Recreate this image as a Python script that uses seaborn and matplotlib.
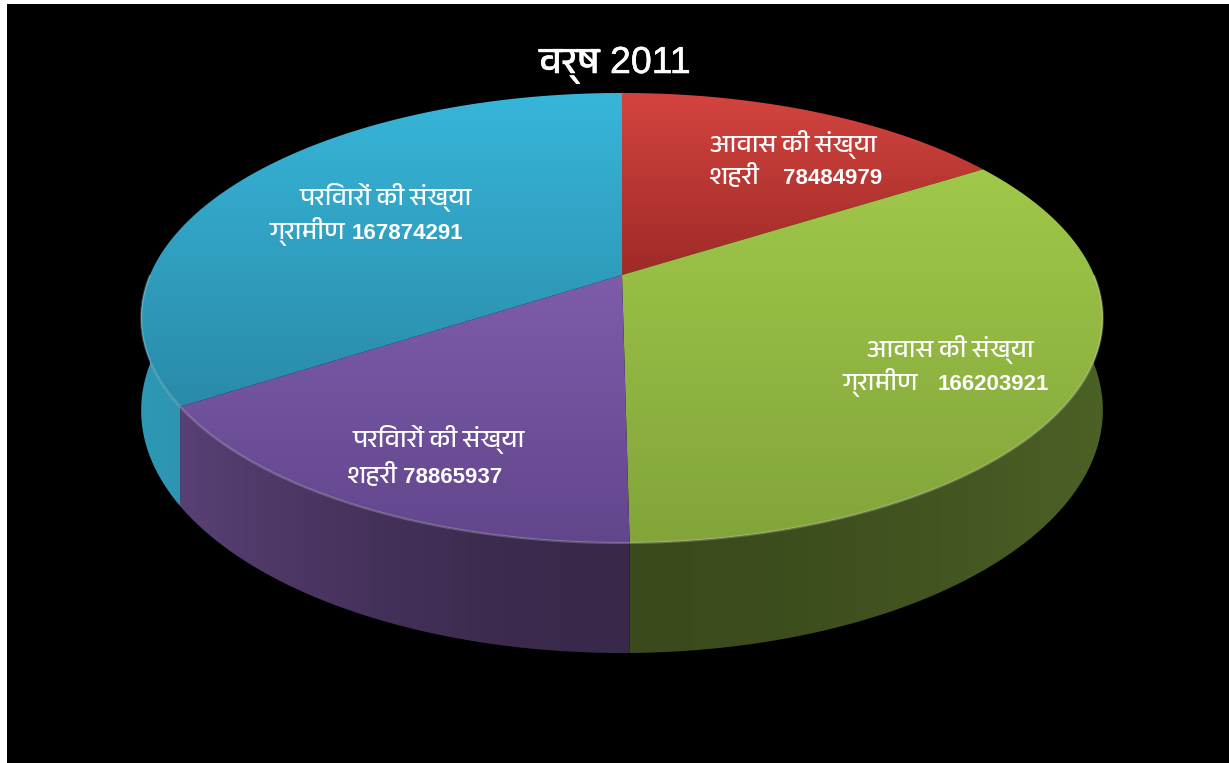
import numpy as np
import matplotlib
matplotlib.use("Agg")
import matplotlib.pyplot as plt
import matplotlib.patheffects as pe
import seaborn as sns
from matplotlib.patches import Polygon
from matplotlib import font_manager as fm
from matplotlib.ft2font import FT2Font
from matplotlib.colors import to_rgb

# ---------------- data ----------------
title = "वर्ष 2011"
metrics = ["आवास की संख्या", "आवास की संख्या", "परिवारों की संख्या", "परिवारों की संख्या"]
areas = ["शहरी", "ग्रामीण", "शहरी", "ग्रामीण"]
values = [78484979, 166203921, 78865937, 167874291]

# ---------------- style / layout ----------------
top_light = ["#D4443F", "#A0C84A", "#7E5CAB", "#37B6D9"]
top_dark = ["#9E2A27", "#82A43A", "#62468C", "#2A8AA9"]
side_front = ["#6E1E1C", "#3A4A1C", "#382849", "#2A86A2"]
side_edge = ["#8E2825", "#4B6025", "#5C437A", "#2E97B4"]
line1_pos = [(793, 152), (950, 357), (439, 447), (386, 205)]
line2_area_end = [760, 918, 398, 345]
line2_val_x = [783, 938, 403, 352]
line2_y = [184, 390, 483, 239]

sns.set_theme(style="dark")


def find_deva():
    best, any_ = None, None
    for f in fm.fontManager.ttflist:
        try:
            cm = FT2Font(f.fname).get_charmap()
        except Exception:
            continue
        if 0x0935 in cm and 0x094D in cm:
            any_ = any_ or f.name
            if any(s in f.name for s in ("Devanagari", "Hind", "Lohit", "Mukta", "Mangal")):
                best = best or f.name
    return best or any_


deva = find_deva()
fams = ["Liberation Sans"] + ([deva] if deva else []) + ["DejaVu Sans"]
deva_fams = ([deva] if deva else []) + ["DejaVu Sans"]
plt.rcParams["font.family"] = fams

W, H = 1229, 763
fig = plt.figure(figsize=(W / 100, H / 100), dpi=100, facecolor="white")
ax = fig.add_axes([7 / W, 0, (W - 7) / W, (H - 4) / H])
ax.set_facecolor("black")
ax.set_xlim(7, W)
ax.set_ylim(H, 4)
ax.set_axis_off()
ax.add_patch(plt.Rectangle((7, 4), W, H, color="black", zorder=0))

CX, CY = 622, 275
A, B, K, D = 472, 216.8, 0.191, 89


def proj(th, drop=0.0):
    x = np.cos(th)
    z = np.sin(th)
    w = 1 + K * z
    return CX + A * x / w, CY - B * z / w + drop * D / w


vals = np.array(values, dtype=float)
frac = vals / vals.sum()
cum = np.concatenate([[0], np.cumsum(frac)])
th0 = np.pi / 2 - 2 * np.pi * cum[:-1]
th1 = np.pi / 2 - 2 * np.pi * cum[1:]


def clipped_image(poly_xy, cols, axis, z):
    patch = Polygon(poly_xy, closed=True, facecolor="none", edgecolor="none", zorder=z)
    ax.add_patch(patch)
    xs, ys = poly_xy[:, 0], poly_xy[:, 1]
    img = cols[:, None, :] if axis == "y" else cols[None, :, :]
    extent = (xs.min() - 1, xs.max() + 1, ys.max() + 1, ys.min() - 1)
    im = ax.imshow(img, extent=extent, aspect="auto", interpolation="bilinear", zorder=z)
    im.set_clip_path(patch)


def ramp(c0, c1, t):
    c0, c1 = np.array(to_rgb(c0)), np.array(to_rgb(c1))
    return c0[None, :] + (c1 - c0)[None, :] * t[:, None]


# sides (front half only)
for i in range(len(values)):
    lo_, hi_ = min(th0[i], th1[i]), max(th0[i], th1[i])
    for shift in (0, -2 * np.pi, 2 * np.pi):
        s0, s1 = max(lo_ + shift, -np.pi), min(hi_ + shift, 0)
        if s1 <= s0:
            continue
        t = np.linspace(s0, s1, 200)
        xt, yt = proj(t)
        xb, yb = proj(t, 1.0)
        poly = np.column_stack([np.concatenate([xt, xb[::-1]]), np.concatenate([yt, yb[::-1]])])
        xx = np.linspace(poly[:, 0].min() - 1, poly[:, 0].max() + 1, 256)
        tt = np.clip(np.abs(xx - CX) / A, 0, 1) ** 1.6
        clipped_image(poly, ramp(side_front[i], side_edge[i], tt), "x", 1)
        ax.plot(xt, yt, color="white", alpha=0.22, lw=1.6, zorder=3, solid_capstyle="butt")

# top faces
for i in range(len(values)):
    t = np.linspace(th0[i], th1[i], 300)
    xa, ya = proj(t)
    poly = np.column_stack([np.concatenate([[CX], xa]), np.concatenate([[CY], ya])])
    clipped_image(poly, ramp(top_light[i], top_dark[i], np.linspace(0, 1, 256)), "y", 2)

# labels
for i in range(len(values)):
    x1, y1 = line1_pos[i]
    ax.text(x1, y1, metrics[i], color="white", fontsize=18.5, family=deva_fams,
            fontweight="normal", ha="center", va="baseline", zorder=5)
    ax.text(line2_area_end[i], line2_y[i], areas[i], color="white", fontsize=18.5,
            family=deva_fams, fontweight="normal", ha="right", va="baseline", zorder=5)
    ax.text(line2_val_x[i], line2_y[i], f"{values[i]}", color="white", fontsize=16,
            family=["Liberation Sans"], fontweight="bold", ha="left", va="baseline", zorder=5)

ax.text(615, 73, title, color="white", fontsize=27, ha="center", va="baseline", zorder=5,
        path_effects=[pe.withStroke(linewidth=0.4, foreground="white")])

fig.savefig("out.png", dpi=100, facecolor=fig.get_facecolor())
